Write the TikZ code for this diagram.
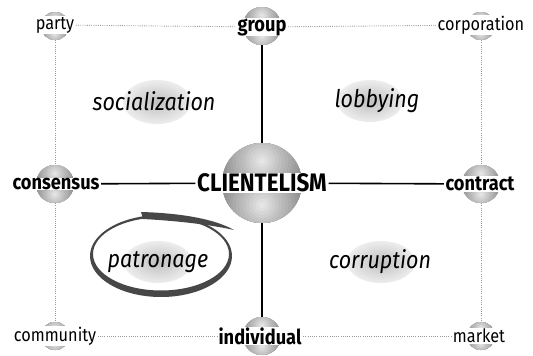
\documentclass[tikz,border=0pt]{standalone}
\usepackage{fontspec}
\setmainfont{Fira Sans}[FakeStretch=0.885]
\usetikzlibrary{calc}
\newcommand\drawsph[3]{%
  \node[circle, inner sep=0pt, minimum size=#3*2pt] (#1) at (#2) {};
  \begin{scope}
    \clip (#2) circle[radius=#3pt];
    \begin{scope}
      \clip ($(#2)+(-#3,-#3)$) rectangle ($(#2)+(#3,0)$);
      \foreach \k in {0,...,13} {%
        \pgfmathsetmacro\rr{1.15*#3*(1-\k/14)}%
        \pgfmathtruncatemacro\cc{8+40*(1-\k/14)}%
        \fill[black!\cc] ($(#2)+(0,-0.55*#3)$) circle[radius=\rr pt];
      }
    \end{scope}
    \begin{scope}
      \clip ($(#2)+(-#3,0)$) rectangle ($(#2)+(#3,#3)$);
      \foreach \k in {0,...,13} {%
        \pgfmathsetmacro\rr{1.15*#3*(1-\k/14)}%
        \pgfmathtruncatemacro\cc{8+40*(1-\k/14)}%
        \fill[black!\cc] ($(#2)+(0,0.55*#3)$) circle[radius=\rr pt];
      }
    \end{scope}
  \end{scope}}
\tikzset{
  lblreg/.style={fill=white, inner xsep=1.5pt, inner ysep=0.5pt, font=\fontsize{18.4}{19}\selectfont},
  lblbold/.style={fill=white, inner xsep=1.5pt, inner ysep=0.5pt, font=\fontsize{20.6}{21}\selectfont\bfseries},
  lblit/.style={inner sep=0pt, font=\fontsize{24.3}{25}\selectfont\itshape},
  dotline/.style={draw=black!40, line width=0.9pt, dash pattern=on 0.9pt off 1.3pt},
  solidline/.style={draw=black, line width=1.6pt},
  blob/.style={inner color=black!25, outer color=black!7}
}
\begin{document}
\begin{tikzpicture}[x=1pt,y=-1pt]
\useasboundingbox[fill=white] (0,0) rectangle (533,356);
% quadrant blobs
\shade[blob] (157,102) ellipse[x radius=34pt, y radius=22pt];
\shade[blob] (370,101) ellipse[x radius=33pt, y radius=21pt];
\shade[blob] (158,262) ellipse[x radius=34pt, y radius=21pt];
\shade[blob] (381,262) ellipse[x radius=34pt, y radius=21pt];
% spheres
\drawsph{sParty}{55,26}{14}
\drawsph{sGroup}{262,26}{19}
\drawsph{sCorp}{481,26}{14}
\drawsph{sCons}{55,184}{19}
\drawsph{sClient}{262,183}{40}
\drawsph{sContr}{481,184}{19}
\drawsph{sComm}{55,336}{14}
\drawsph{sIndiv}{262,336}{19}
\drawsph{sMarket}{481,336}{14}
% labels
\node[lblreg] (tParty) at (55,25) {party};
\node[lblbold] (tGroup) at (262,27) {group};
\node[lblreg] (tCorp) at (481,25) {corporation};
\node[lblbold] (tCons) at (56,184) {consensus};
\node[fill=white, inner xsep=1.5pt, inner ysep=1pt, font=\fontsize{25.3}{26}\selectfont\bfseries] (tClient) at (262,183) {CLIENTELISM};
\node[lblbold] (tContr) at (480,184) {contract};
\node[lblreg] (tComm) at (55,336) {community};
\node[lblbold] (tIndiv) at (260,336) {individual};
\node[lblreg] (tMarket) at (479,336) {market};
\node[lblit] (qSoc) at (154,101) {socialization};
\node[lblit] (qLob) at (377,101) {lobbying};
\node[lblit] (qPat) at (158,262) {patronage};
\node[lblit] (qCor) at (380,262) {corruption};
% connectors
\draw[dotline] (tParty) -- (tGroup);
\draw[dotline] (tGroup) -- (tCorp);
\draw[dotline] (tComm) -- (tIndiv);
\draw[dotline] (tIndiv) -- (tMarket);
\draw[dotline] (sParty) -- (sCons);
\draw[dotline] (sCons) -- (sComm);
\draw[dotline] (sCorp) -- (sContr);
\draw[dotline] (sContr) -- (sMarket);
\draw[solidline] (sGroup) -- (sClient);
\draw[solidline] (sClient) -- (sIndiv);
\draw[solidline] (tCons) -- (tClient);
\draw[solidline] (tClient) -- (tContr);
% patronage brush loop
\fill[black!72, even odd rule] (161,256) ellipse[x radius=71pt, y radius=41pt]
   (161,254) ellipse[x radius=68pt, y radius=36.5pt];
\fill[black!72] (141,212) .. controls (180,213) and (215,219) .. (234,230)
   .. controls (212,225) and (180,221) .. (143,219) -- cycle;
\end{tikzpicture}
\end{document}
